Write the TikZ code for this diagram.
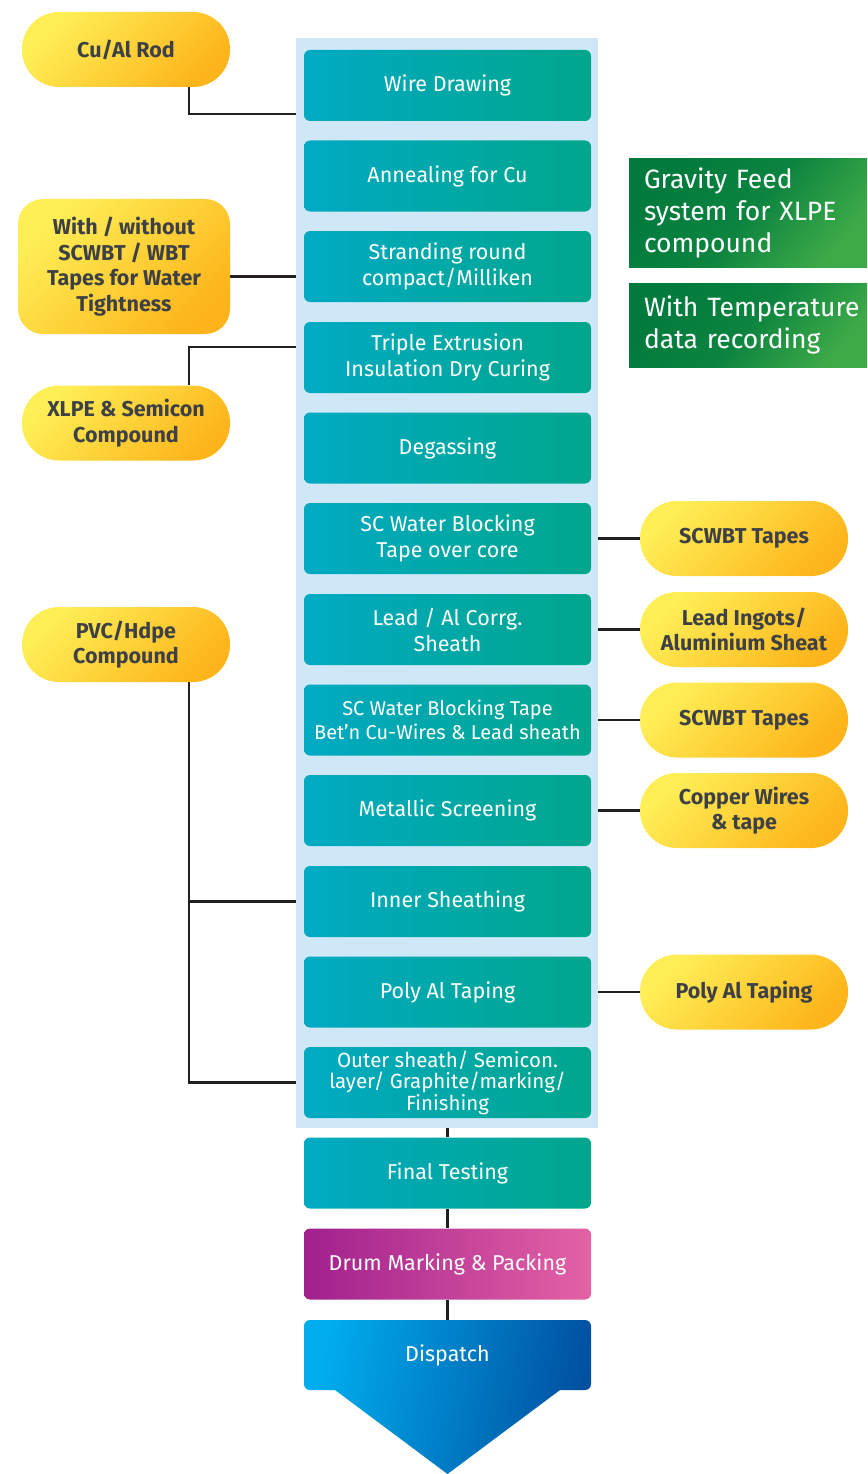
\documentclass[tikz,border=0pt]{standalone}
\usepackage{fontspec}
\setmainfont{Fira Sans}
\usetikzlibrary{positioning, fit, calc, backgrounds}
\definecolor{mcol}{HTML}{CFE8F8}
\definecolor{mtealL}{HTML}{00AAC3}
\definecolor{mtealR}{HTML}{00A68B}
\definecolor{myelL}{HTML}{FFEF57}
\definecolor{myelR}{HTML}{FDB51B}
\definecolor{mytext}{HTML}{3D4145}
\definecolor{mgrnL}{HTML}{007A3D}
\definecolor{mgrnR}{HTML}{3DAA48}
\definecolor{mmagL}{HTML}{A0208D}
\definecolor{mmagR}{HTML}{E462A5}
\definecolor{mbluL}{HTML}{00AEEF}
\definecolor{mbluR}{HTML}{0050A0}
\definecolor{mline}{HTML}{231F20}
\tikzset{
  procbox/.style={left color=mtealL, right color=mtealR, text=white, rounded corners=6pt,
                  minimum width=287pt, minimum height=71pt, align=center, inner sep=0pt,
                  font=\fontsize{21.5}{26}\selectfont},
  pill/.style={top color=myelL, bottom color=myelR, shading angle=45, rounded corners=37pt,
               minimum width=208pt, minimum height=75pt, align=center, inner sep=0pt,
               text=mytext, font=\fontsize{21.5}{25.5}\selectfont\bfseries},
  notebox/.style={top color=mgrnL, bottom color=mgrnR, middle color=mgrnL!80!mgrnR, shading angle=50,
                  text=white, align=left, text width=208pt, inner xsep=15pt, inner ysep=0pt,
                  minimum width=238pt, font=\fontsize{26.5}{32}\selectfont},
  link/.style={draw=mline, line width=2.4pt},
}
\begin{document}
\begin{tikzpicture}[x=1pt, y=-1pt]
  \useasboundingbox (0,0) rectangle (867,1474);

  \node[fill=mcol, minimum width=302pt, minimum height=1090pt, inner sep=0pt] (col) at (447,583) {};

  \node[procbox] (wire) at (447.5,85.5) {Wire Drawing};
  \node[procbox] (anneal) at (447.5,176) {Annealing for Cu};
  \node[procbox] (strand) at (447.5,266.5) {Stranding round\\compact/Milliken};
  \node[procbox] (triple) at (447.5,357.5) {Triple Extrusion\\Insulation Dry Curing};
  \node[procbox] (degas) at (447.5,448) {Degassing};
  \node[procbox] (scwb) at (447.5,538.5) {SC Water Blocking\\Tape over core};
  \node[procbox] (lead) at (447.5,629.5) {Lead / Al Corrg.\\Sheath};
  \node[procbox, font=\fontsize{20}{24}\selectfont] (scbet) at (447.5,720) {SC Water Blocking Tape\\Bet'n Cu-Wires \& Lead sheath};
  \node[procbox] (screen) at (447.5,810.5) {Metallic Screening};
  \node[procbox] (inner) at (447.5,901.5) {Inner Sheathing};
  \node[procbox] (poly) at (447.5,992) {Poly Al Taping};
  \node[procbox, font=\fontsize{20.5}{21.5}\selectfont] (outer) at (447.5,1082.5) {Outer sheath/ Semicon.\\layer/ Graphite/marking/\\Finishing};
  \node[procbox] (final) at (447.5,1173) {Final Testing};
  \node[procbox, left color=mmagL, right color=mmagR] (drum) at (447.5,1264) {Drum Marking \& Packing};

  \shade[left color=mbluL, right color=mbluR, shading angle=80]
    (335,1390) [rounded corners=6pt] -- (304,1390) -- (304,1320) -- (591,1320) -- (591,1390)
    [sharp corners] -- (560,1390) -- (447.5,1474) -- cycle;
  \node[text=white, font=\fontsize{21.5}{26}\selectfont, minimum width=287pt, minimum height=70pt] (dispatch) at (447.5,1355) {Dispatch};

  \node[pill] (rod) at (126,49.5) {Cu/Al Rod};
  \node[pill, minimum width=212pt, minimum height=135pt, rounded corners=25pt] (tapes) at (124,266.5) {With / without\\SCWBT / WBT\\Tapes for Water\\Tightness};
  \node[pill] (xlpe) at (126,423) {XLPE \& Semicon\\Compound};
  \node[pill] (pvc) at (126,644.5) {PVC/Hdpe\\Compound};

  \node[pill] (scwbt1) at (744,538.5) {SCWBT Tapes};
  \node[pill] (ingots) at (744,629.5) {Lead Ingots/\\Aluminium Sheat};
  \node[pill] (scwbt2) at (744,720) {SCWBT Tapes};
  \node[pill] (copper) at (744,810.5) {Copper Wires\\\& tape};
  \node[pill] (polyin) at (744,992) {Poly Al Taping};

  \node[notebox, minimum height=108pt] (gravity) at (748,213) {Gravity Feed\\system for XLPE\\compound};
  \node[notebox, minimum height=84pt] (temp) at (748,325) {\mbox{With Temperature}\\data recording};

  \begin{scope}[on background layer]
    \draw[link] ([xshift=63pt]rod.south) |- ([yshift=-28.5pt]wire.west -| col.west);
    \draw[link] ([yshift=-10pt]tapes.east) -- ([yshift=-10pt]tapes.east -| col.west);
    \draw[link] ([xshift=63pt]xlpe.north) |- ([yshift=10.5pt]triple.west -| col.west);
    \draw[link] ([xshift=63pt]pvc.south) |- (inner.west -| col.west);
    \draw[link] ([xshift=63pt]pvc.south) |- (outer.west -| col.west);

    \draw[link] (scwbt1.west) -- (scwbt1.west -| col.east);
    \draw[link] (ingots.west) -- (ingots.west -| col.east);
    \draw[link] (scwbt2.west) -- (scwbt2.west -| col.east);
    \draw[link] (copper.west) -- (copper.west -| col.east);
    \draw[link] (polyin.west) -- (polyin.west -| col.east);

    \draw[link] (outer) -- (final);
    \draw[link] (final) -- (drum);
    \draw[link] (drum) -- (dispatch);
  \end{scope}
\end{tikzpicture}
\end{document}
